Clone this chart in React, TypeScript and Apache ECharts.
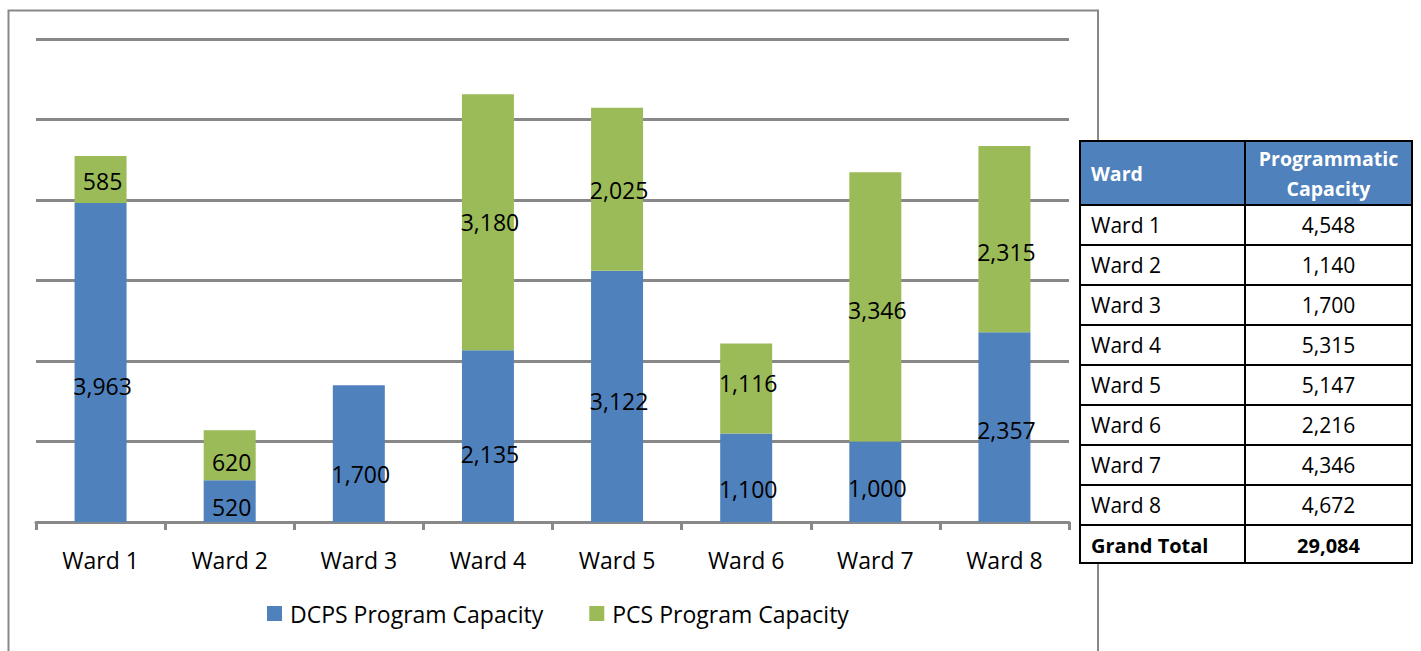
import React, { useEffect, useRef } from "react";
import * as echarts from "echarts";

const wards = ["Ward 1", "Ward 2", "Ward 3", "Ward 4", "Ward 5", "Ward 6", "Ward 7", "Ward 8"];
const dcps = [3963, 520, 1700, 2135, 3122, 1100, 1000, 2357];
const pcs = [585, 620, 0, 3180, 2025, 1116, 3346, 2315];
const seriesNames = ["DCPS Program Capacity", "PCS Program Capacity"];
const tableHeader = ["Ward", "Programmatic\nCapacity"];
const grandTotalLabel = "Grand Total";

// manual nudges of the data labels (px), as placed in the original chart
const dcpsLabelNudge = [24, 6, 20, 18, 5, 11, 6, 3];
const pcsLabelNudge = [2, 7, 0, 0, 1, -6, 3, 13];

const FONT = "'Open Sans', Lato, sans-serif";
const BLUE = "#4F81BD";
const GREEN = "#9BBB59";
const GRID = "#888888";

function fmt(n: number) {
  return n.toLocaleString("en-US");
}

function buildTable() {
  const x0 = 1080;
  const x1 = 1245;
  const x2 = 1412;
  const headTop = 141;
  const headBottom = 205;
  const rowH = 40;
  const totals = dcps.map((d, i) => d + pcs[i]);
  const rows: [string, string, boolean][] = wards.map((w, i) => [w, fmt(totals[i]), false]);
  rows.push([grandTotalLabel, fmt(totals.reduce((a, b) => a + b, 0)), true]);
  const bottom = headBottom + rowH * rows.length - 2;
  const els: any[] = [];
  els.push({ type: "rect", shape: { x: x0, y: headTop, width: x2 - x0, height: headBottom - headTop }, style: { fill: BLUE } });
  els.push({ type: "rect", shape: { x: x0, y: headBottom, width: x2 - x0, height: bottom - headBottom }, style: { fill: "#fff" } });
  els.push({
    type: "text", x: 1091, y: (headTop + headBottom) / 2,
    style: { text: tableHeader[0], fill: "#fff", font: `bold 19.5px ${FONT}`, verticalAlign: "middle", align: "left" },
  });
  els.push({
    type: "text", x: (x1 + x2) / 2, y: (headTop + headBottom) / 2,
    style: { text: tableHeader[1], fill: "#fff", font: `bold 19.5px ${FONT}`, verticalAlign: "middle", align: "center", lineHeight: 30 },
  });
  rows.forEach((r, i) => {
    const top = headBottom + i * rowH;
    const cy = top + rowH / 2;
    const f = r[2] ? `bold 20px ${FONT}` : `21px ${FONT}`;
    els.push({
      type: "text", x: 1091, y: cy,
      style: { text: r[0], fill: "#000", font: f, verticalAlign: "middle", align: "left" },
    });
    els.push({
      type: "text", x: (x1 + x2) / 2, y: cy,
      style: { text: r[1], fill: "#000", font: f, verticalAlign: "middle", align: "center" },
    });
    if (i > 0) {
      els.push({ type: "line", shape: { x1: x0, y1: top, x2: x2, y2: top }, style: { stroke: "#000", lineWidth: 2 } });
    }
  });
  els.push({ type: "line", shape: { x1: x0, y1: headBottom, x2: x2, y2: headBottom }, style: { stroke: "#000", lineWidth: 2 } });
  els.push({ type: "line", shape: { x1: x1, y1: headTop, x2: x1, y2: bottom }, style: { stroke: "#000", lineWidth: 2 } });
  els.push({ type: "rect", shape: { x: x0, y: headTop, width: x2 - x0, height: bottom - headTop }, style: { fill: "none", stroke: "#000", lineWidth: 2 } });
  return els;
}

export default function App() {
  const ref = useRef<HTMLDivElement>(null);
  useEffect(() => {
    if (!ref.current) return;
    const chart = echarts.init(ref.current, null, { renderer: "svg" });
    const labelStyle = {
      show: true,
      position: "inside" as const,
      color: "#000",
      fontSize: 23,
      fontFamily: FONT,
      formatter: (p: any) => (p.value ? fmt(p.value) : ""),
    };
    const mkData = (vals: number[], nudges: number[]) =>
      vals.map((v, i) => ({ value: v, label: { offset: [2, nudges[i]] } }));
    chart.setOption({
      animation: false,
      backgroundColor: "#fff",
      textStyle: { fontFamily: FONT },
      graphic: [
        {
          type: "rect", z: -10, silent: true,
          shape: { x: 8.5, y: 10.5, width: 1089.5, height: 660 },
          style: { fill: "none", stroke: GRID, lineWidth: 2 },
        },
        ...buildTable().map((e) => ({ ...e, z: 100 })),
      ],
      legend: {
        bottom: 21,
        left: 262,
        itemWidth: 15,
        itemHeight: 15,
        itemGap: 46,
        icon: "rect",
        textStyle: { fontSize: 23, color: "#000", fontFamily: FONT, padding: [0, 0, 0, 3] },
        data: seriesNames,
      },
      grid: { left: 36, right: 352, top: 39, bottom: 129, containLabel: false },
      xAxis: {
        type: "category",
        data: wards,
        axisLine: { show: true, lineStyle: { color: GRID, width: 3 } },
        axisTick: { show: true, length: 8, lineStyle: { color: GRID, width: 3 } },
        axisLabel: { color: "#000", fontSize: 23, fontFamily: FONT, margin: 26 },
      },
      yAxis: {
        type: "value",
        min: 0,
        max: 6000,
        interval: 1000,
        axisLabel: { show: false },
        axisLine: { show: false },
        axisTick: { show: false },
        splitLine: { show: true, lineStyle: { color: GRID, width: 3 } },
      },
      series: [
        {
          name: seriesNames[0], type: "bar", stack: "total", barWidth: 52,
          itemStyle: { color: BLUE }, label: labelStyle, data: mkData(dcps, dcpsLabelNudge),
        },
        {
          name: seriesNames[1], type: "bar", stack: "total", barWidth: 52,
          itemStyle: { color: GREEN }, label: labelStyle, data: mkData(pcs, pcsLabelNudge),
        },
      ],
    });
    return () => chart.dispose();
  }, []);
  return (
    <div
      ref={ref}
      style={{ position: "absolute", left: 0, top: 0, width: 1421, height: 651 }}
    />
  );
}
